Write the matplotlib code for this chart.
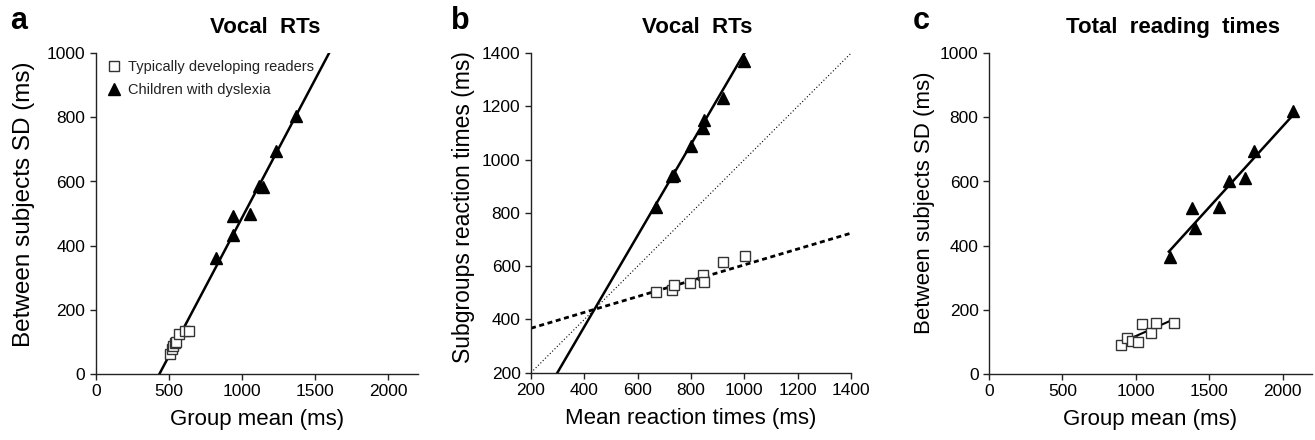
import matplotlib
matplotlib.use('Agg')
import matplotlib.pyplot as plt

plt.rcParams['font.family'] = ['Liberation Sans', 'DejaVu Sans']

# Panel a - vocal RTs, SD vs group mean
a_td_mean = [505, 522, 530, 540, 548, 570, 610, 635]
a_td_sd = [60, 78, 88, 95, 100, 124, 133, 133]
a_dys_mean = [822, 941, 941, 1055, 1112, 1146, 1232, 1369]
a_dys_sd = [362, 433, 492, 500, 586, 584, 695, 805]
a_fit_x = [436, 1593]
a_fit_y = [0, 1000]

# Panel b - vocal RTs, subgroup RTs vs mean RTs
b_mean = [668, 728, 737, 798, 845, 849, 922, 1001]
b_td_rt = [504, 511, 530, 536, 567, 542, 614, 640]
b_mean_dys = [669, 730, 737, 799, 846, 850, 922, 1000]
b_dys_rt = [824, 937, 941, 1053, 1118, 1149, 1233, 1369]
b_fit_dys_x = [299, 1000]
b_fit_dys_y = [200, 1400]
b_fit_td_x = [200, 1400]
b_fit_td_y = [367, 724]
b_diag = [200, 1400]

# Panel c - total reading times
c_td_mean = [898, 941, 973, 1018, 1045, 1105, 1136, 1257]
c_td_sd = [89, 112, 103, 100, 154, 128, 157, 159]
c_dys_mean = [1230, 1386, 1405, 1564, 1632, 1745, 1807, 2070]
c_dys_sd = [365, 516, 454, 521, 601, 610, 695, 820]
c_fit_td_x = [973, 1230]
c_fit_td_y = [112, 164]
c_fit_dys_x = [1225, 2070]
c_fit_dys_y = [381, 807]

fig = plt.figure(figsize=(13.15, 4.4), dpi=100)
ax_a = fig.add_axes([0.0728, 0.1507, 0.2449, 0.728])
ax_b = fig.add_axes([0.4038, 0.153, 0.2433, 0.726])
ax_c = fig.add_axes([0.7521, 0.1507, 0.2456, 0.728])

sq = dict(marker='s', ms=7.5, mfc='white', mec='#333333', mew=1.0, ls='none')
tri = dict(marker='^', ms=9, color='black', ls='none')


def style(ax):
    for s in ['top', 'right']:
        ax.spines[s].set_visible(False)
    for s in ['left', 'bottom']:
        ax.spines[s].set_linewidth(1.0)
        ax.spines[s].set_color('#222222')
    ax.tick_params(direction='out', length=4, width=1.0, labelsize=12.5, colors='#222222')
    ax.tick_params(labelcolor='black')


# a
ax_a.plot(a_fit_x, a_fit_y, color='black', lw=1.8, zorder=2)
ax_a.plot(a_td_mean, a_td_sd, label='Typically developing readers', zorder=3, **sq)
ax_a.plot(a_dys_mean, a_dys_sd, label='Children with dyslexia', zorder=3, **tri)
ax_a.set_xlim(0, 2200)
ax_a.set_ylim(0, 1000)
ax_a.set_xticks([0, 500, 1000, 1500, 2000])
ax_a.set_yticks([0, 200, 400, 600, 800, 1000])
ax_a.set_xlabel('Group mean (ms)', fontsize=16, labelpad=7)
ax_a.set_ylabel('Between subjects SD (ms)', fontsize=17.5)
ax_a.legend(loc='upper left', frameon=False, fontsize=10.5, handletextpad=0.3,
            bbox_to_anchor=(-0.01, 1.02), labelspacing=0.6, handlelength=1.2,
            labelcolor='#222222')
style(ax_a)
ax_a.yaxis.set_label_coords(-0.19, 0.53)

# b
ax_b.plot(b_diag, b_diag, color='black', lw=0.8, ls=(0, (1, 2)), zorder=1)
ax_b.plot(b_fit_dys_x, b_fit_dys_y, color='black', lw=1.8, zorder=2)
ax_b.plot(b_fit_td_x, b_fit_td_y, color='black', lw=2.0, ls=(0, (1.8, 1.3)), zorder=2)
ax_b.plot(b_mean, b_td_rt, zorder=3, **sq)
ax_b.plot(b_mean_dys, b_dys_rt, zorder=3, **tri)
ax_b.set_xlim(200, 1400)
ax_b.set_ylim(200, 1400)
ax_b.set_xticks(range(200, 1401, 200))
ax_b.set_yticks(range(200, 1401, 200))
ax_b.set_xlabel('Mean reaction times (ms)', fontsize=16, labelpad=7)
ax_b.set_ylabel('Subgroups reaction times (ms)', fontsize=16.5)
style(ax_b)
ax_b.yaxis.set_label_coords(-0.174, 0.52)

# c
ax_c.plot(c_fit_td_x, c_fit_td_y, color='black', lw=1.5, zorder=2)
ax_c.plot(c_fit_dys_x, c_fit_dys_y, color='black', lw=1.8, zorder=2)
ax_c.plot(c_td_mean, c_td_sd, zorder=3, **sq)
ax_c.plot(c_dys_mean, c_dys_sd, zorder=3, **tri)
ax_c.set_xlim(0, 2200)
ax_c.set_ylim(0, 1000)
ax_c.set_xticks([0, 500, 1000, 1500, 2000])
ax_c.set_yticks([0, 200, 400, 600, 800, 1000])
ax_c.set_xlabel('Group mean (ms)', fontsize=16, labelpad=7)
ax_c.set_ylabel('Between subjects SD (ms)', fontsize=16)
style(ax_c)
ax_c.yaxis.set_label_coords(-0.168, 0.535)

# titles and panel letters
fig.text(0.2015, 0.938, 'Vocal  RTs', ha='center', va='center', fontsize=16, fontweight='bold')
fig.text(0.530, 0.938, 'Vocal  RTs', ha='center', va='center', fontsize=16, fontweight='bold')
fig.text(0.892, 0.938, 'Total  reading  times', ha='center', va='center', fontsize=16, fontweight='bold')
fig.text(0.008, 0.952, 'a', ha='left', va='center', fontsize=22, fontweight='bold')
fig.text(0.343, 0.952, 'b', ha='left', va='center', fontsize=22, fontweight='bold')
fig.text(0.694, 0.952, 'c', ha='left', va='center', fontsize=22, fontweight='bold')

fig.savefig('out.png', dpi=100)
